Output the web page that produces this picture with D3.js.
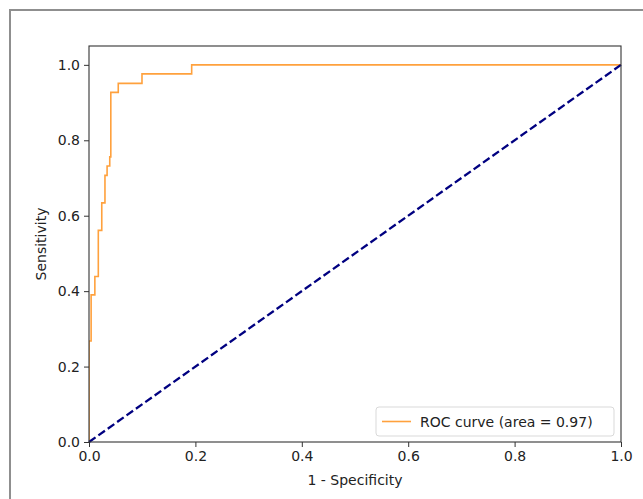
<!DOCTYPE html>
<html>
<head>
<meta charset="utf-8">
<script src="https://cdn.jsdelivr.net/npm/d3@7/dist/d3.min.js"></script>
<style>
  html, body { margin: 0; padding: 0; background: #fff; }
  svg { display: block; }
  text { font-family: "DejaVu Sans", sans-serif; fill: #222; }
</style>
</head>
<body>
<svg id="chart" width="643" height="499"></svg>
<script>
// ROC curve points: false positive rate (1 - specificity) and true positive rate
const fpr = [0, 0, 0.004, 0.004, 0.011, 0.011, 0.0175, 0.0175, 0.024, 0.024, 0.030, 0.030,
             0.034, 0.034, 0.039, 0.039, 0.041, 0.041, 0.055, 0.055, 0.0996, 0.0996, 0.193, 0.193, 1.0];
const tpr = [0, 0.268, 0.268, 0.390, 0.390, 0.439, 0.439, 0.561, 0.561, 0.634, 0.634, 0.707,
             0.707, 0.732, 0.732, 0.756, 0.756, 0.927, 0.927, 0.951, 0.951, 0.976, 0.976, 1.0, 1.0];
const chanceX = [0, 1];
const chanceY = [0, 1];
const xTicks = [0, 0.2, 0.4, 0.6, 0.8, 1.0];
const yTicks = [0, 0.2, 0.4, 0.6, 0.8, 1.0];
const aucLabel = "ROC curve (area = 0.97)";

const svg = d3.select("#chart");

// outer frame
svg.append("rect")
  .attr("x", 10).attr("y", 10)
  .attr("width", 700).attr("height", 600)
  .attr("fill", "none").attr("stroke", "#8f8f8f").attr("stroke-width", 2);

const pLeft = 89, pRight = 621, pTop = 46, pBottom = 442;
const x = d3.scaleLinear().domain([0, 1]).range([pLeft, pRight]);
const y = d3.scaleLinear().domain([0, 1.05]).range([pBottom, pTop]);

const plot = svg.append("g");
const clipId = "plotclip";
svg.append("defs").append("clipPath").attr("id", clipId)
  .append("rect").attr("x", pLeft).attr("y", pTop)
  .attr("width", pRight - pLeft).attr("height", pBottom - pTop);

const lineGen = d3.line().x(d => x(d[0])).y(d => y(d[1]));

// ROC curve
plot.append("path")
  .datum(fpr.map((v, i) => [v, tpr[i]]))
  .attr("d", lineGen)
  .attr("fill", "none")
  .attr("stroke", "#ffa13d")
  .attr("stroke-width", 1.6)
  .attr("clip-path", `url(#${clipId})`);

// chance diagonal
plot.append("path")
  .datum(chanceX.map((v, i) => [v, chanceY[i]]))
  .attr("d", lineGen)
  .attr("fill", "none")
  .attr("stroke", "#000080")
  .attr("stroke-width", 2.3)
  .attr("stroke-dasharray", "8,3.5");

// axes
const xAxis = d3.axisBottom(x).tickValues(xTicks).tickFormat(d3.format(".1f")).tickSize(5).tickPadding(4);
const yAxis = d3.axisLeft(y).tickValues(yTicks).tickFormat(d3.format(".1f")).tickSize(5).tickPadding(4);

const gx = svg.append("g").attr("transform", `translate(0,${pBottom})`).call(xAxis);
const gy = svg.append("g").attr("transform", `translate(${pLeft},0)`).call(yAxis);
[gx, gy].forEach(g => {
  g.select(".domain").remove();
  g.selectAll(".tick line").attr("stroke", "#333").attr("stroke-width", 1);
  g.selectAll(".tick text").style("font-size", "14px").attr("fill", "#222")
    .style("font-family", "DejaVu Sans, sans-serif");
});

// frame around plotting area
svg.append("rect")
  .attr("x", pLeft).attr("y", pTop)
  .attr("width", pRight - pLeft).attr("height", pBottom - pTop)
  .attr("fill", "none").attr("stroke", "#333").attr("stroke-width", 1.1);

// axis titles
svg.append("text")
  .attr("x", (pLeft + pRight) / 2).attr("y", 485)
  .attr("text-anchor", "middle")
  .style("font-size", "14px")
  .text("1 - Specificity");

svg.append("text")
  .attr("transform", `translate(46,${(pTop + pBottom) / 2}) rotate(-90)`)
  .attr("text-anchor", "middle")
  .style("font-size", "14px")
  .text("Sensitivity");

// legend
const lg = svg.append("g");
lg.append("rect")
  .attr("x", 376).attr("y", 407).attr("width", 238).attr("height", 29)
  .attr("rx", 3).attr("fill", "#fff").attr("fill-opacity", 0.8)
  .attr("stroke", "#d9d9d9").attr("stroke-width", 1);
lg.append("line")
  .attr("x1", 382).attr("x2", 411).attr("y1", 421.5).attr("y2", 421.5)
  .attr("stroke", "#ffa13d").attr("stroke-width", 1.6);
lg.append("text")
  .attr("x", 420).attr("y", 426.5)
  .style("font-size", "14px")
  .text(aucLabel);
</script>
</body>
</html>
